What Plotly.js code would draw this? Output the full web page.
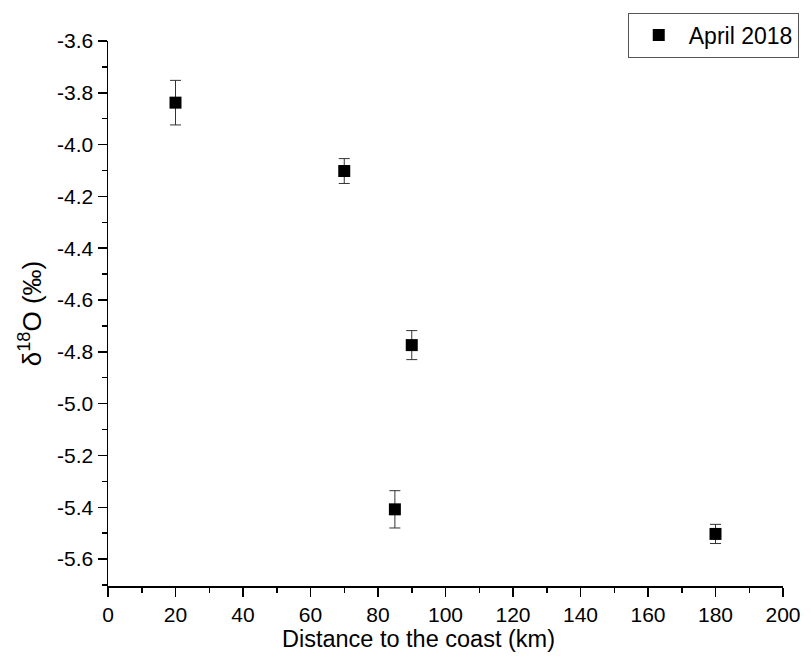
<!DOCTYPE html>
<html>
<head>
<meta charset="utf-8">
<script src="https://cdn.plot.ly/plotly-3.0.1.min.js"></script>
<style>html,body{margin:0;padding:0;background:#fff;}#chart{width:811px;height:671px;}</style>
</head>
<body>
<div id="chart"></div>
<script>
const seriesName = "April 2018";
const distance = [20, 70, 90, 85, 180];
const delta18O = [-3.838, -4.102, -4.774, -5.408, -5.503];
const errorVals = [0.086, 0.048, 0.056, 0.072, 0.037];
const xTickVals = [0, 20, 40, 60, 80, 100, 120, 140, 160, 180, 200];
const xTickText = ["0", "20", "40", "60", "80", "100", "120", "140", "160", "180", "200"];
const yTickVals = [-3.6, -3.8, -4.0, -4.2, -4.4, -4.6, -4.8, -5.0, -5.2, -5.4, -5.6];
const yTickText = ["-3.6", "-3.8", "-4.0", "-4.2", "-4.4", "-4.6", "-4.8", "-5.0", "-5.2", "-5.4", "-5.6"];
const xTitle = "Distance to the coast (km)";
const yTitle = "δ<sup>18</sup>O (‰)";

const fontFam = "Liberation Sans, Arial, sans-serif";

const trace = {
  x: distance,
  y: delta18O,
  name: seriesName,
  type: "scatter",
  mode: "markers",
  marker: {symbol: "square", size: 12, color: "#000"},
  error_y: {type: "data", array: errorVals, visible: true, color: "#333", thickness: 1, width: 5.5},
  showlegend: true
};

const layout = {
  width: 811, height: 671,
  margin: {l: 108, r: 28, t: 41, b: 85},
  paper_bgcolor: "#fff", plot_bgcolor: "#fff",
  font: {family: fontFam, color: "#000"},
  showlegend: true,
  legend: {
    x: 0.77, y: 1.052, xref: "paper", yref: "paper", xanchor: "left", yanchor: "top",
    bordercolor: "#555", borderwidth: 1, bgcolor: "#fff",
    itemwidth: 50,
    font: {size: 23, family: fontFam}
  },
  annotations: [{
    text: xTitle, xref: "paper", yref: "paper", x: 0.4607, y: -0.097,
    xanchor: "center", yanchor: "middle", showarrow: false, borderpad: 0,
    font: {size: 23.5, family: fontFam, color: "#000"}
  }],
  xaxis: {
    range: [0, 200],
    tickmode: "array", tickvals: xTickVals, ticktext: xTickText,
    ticks: "outside", ticklen: 9, tickwidth: 1.5, tickcolor: "#000",
    minor: {ticks: "outside", ticklen: 5, dtick: 10, tickwidth: 1.5, tickcolor: "#000"},
    showline: true, linecolor: "#000", linewidth: 1.5, mirror: false,
    showgrid: false, zeroline: false,
    tickfont: {size: 21, family: fontFam}
  },
  yaxis: {
    range: [-5.704, -3.6],
    tickmode: "array", tickvals: yTickVals, ticktext: yTickText,
    ticks: "outside", ticklen: 9, tickwidth: 1.5, tickcolor: "#000",
    minor: {ticks: "outside", ticklen: 5, dtick: 0.1, tickwidth: 1.5, tickcolor: "#000"},
    showline: true, linecolor: "#000", linewidth: 1.5, mirror: false,
    showgrid: false, zeroline: false,
    tickfont: {size: 21, family: fontFam},
    title: {text: yTitle, font: {size: 26, family: fontFam}, standoff: 8}
  }
};

Plotly.newPlot("chart", [trace], layout, {displayModeBar: false, staticPlot: true});
</script>
</body>
</html>
